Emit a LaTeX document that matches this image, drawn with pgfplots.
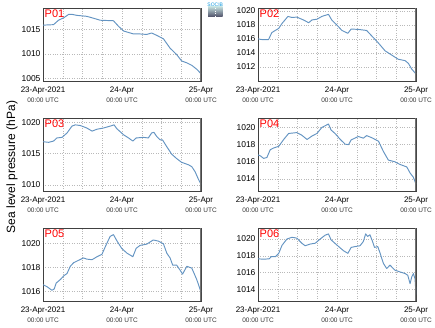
\documentclass[border=0pt]{standalone}
\usepackage{pgfplots}
\pgfplotsset{compat=1.18}
\usepackage{fontspec}
\setmainfont{Liberation Sans}
\definecolor{lc}{RGB}{100,148,194}
\definecolor{gridc}{RGB}{185,185,185}
\tikzset{plabel/.style={red, font=\fontsize{11}{12}\selectfont, anchor=north west, inner sep=1.5pt}}
\newcommand{\tl}[1]{\fontsize{8}{8}\selectfont #1\\[-1.5pt]\fontsize{6.5}{6.5}\selectfont\color{black!80} 00:00 UTC}
\pgfplotsset{
  panel/.style={
    scale only axis, width=158pt, height=73pt,
    xmin=0, xmax=48,
    xtick={0,6,...,48},
    xticklabels={{\tl{23-Apr-2021}},,,,{\tl{24-Apr}},,,,{\tl{25-Apr}}},
    xticklabel style={align=center, yshift=-2pt},
    yticklabel style={font=\fontsize{8.5}{9}\selectfont, xshift=1pt},
    /pgf/number format/assume math mode=true,
    /pgf/number format/1000 sep={},
    major tick length=0pt,
    grid=major,
    major grid style={gridc, dotted, line width=0.5pt},
    axis line style={black!75, line width=0.6pt},
    every axis plot post/.append style={lc, line width=0.95pt, mark=none, line join=round},
  },
}
\begin{document}
\begin{tikzpicture}
\useasboundingbox (0,0) rectangle (435pt,327pt);
% logo
\shade[top color=cyan!25!gray!40, bottom color=black!75!blue!40!gray] (208pt,310pt) rectangle (222.5pt,320pt);
\draw[white, dotted, line width=0.4pt] (215pt,311pt) -- (215pt,319pt);
\node[font=\fontsize{5}{5}\selectfont, text=cyan!80!blue, inner sep=0pt, anchor=south] at (215.2pt,320.3pt) {SOCIB};
% y label
\node[rotate=90, font=\fontsize{12}{13}\selectfont] at (12pt,160pt) {Sea level pressure (hPa)};

% P01
\begin{axis}[panel, at={(43pt,246pt)}, anchor=south west, ymin=1004.5, ymax=1019.4, ytick={1005,1010,1015}]
\addplot coordinates {(0,1015.9)(3.2,1016.0)(4.7,1016.9)(6.3,1017.4)(7.8,1018.1)(8.8,1018.1)(10.3,1017.9)(13.3,1017.7)(15.4,1017.3)(17.4,1016.9)(21.4,1016.8)(22.9,1015.7)(24.5,1014.7)(27.5,1014.1)(29.5,1014.1)(31.5,1014.0)(33.0,1014.3)(34.6,1013.8)(36.6,1013.1)(38.6,1011.2)(40.6,1009.9)(42.1,1008.6)(43.7,1008.2)(45.2,1007.7)(46.7,1006.9)(48,1006.0)};
\node[plabel] at (rel axis cs:0,1) {P01};
\draw[black!55, line width=1.2pt] (rel axis cs:1,0) -- (rel axis cs:1,1);
\end{axis}

% P02
\begin{axis}[panel, at={(258pt,246pt)}, anchor=south west, ymin=1010, ymax=1020.4, ytick={1012,1014,1016,1018,1020}]
\addplot coordinates {(0,1016.0)(1.2,1015.9)(3.2,1015.9)(4.2,1016.9)(6.3,1017.5)(7.3,1018.2)(9.1,1019.2)(10.3,1019.05)(11.8,1019.1)(13.8,1018.7)(15.4,1018.3)(16.4,1018.7)(17.9,1018.8)(19.4,1019.2)(21.4,1019.5)(22.4,1018.7)(23.9,1018.0)(25.5,1017.2)(27.3,1016.8)(28.3,1017.4)(30.5,1017.35)(33.0,1017.2)(34.6,1016.4)(36.6,1015.4)(38.6,1014.3)(40.6,1013.7)(42.6,1013.1)(44.7,1012.9)(45.7,1012.5)(46.7,1011.7)(48,1011.0)};
\node[plabel] at (rel axis cs:0,1) {P02};
\draw[black!55, line width=1.2pt] (rel axis cs:1,0) -- (rel axis cs:1,1);
\end{axis}

% P03
\begin{axis}[panel, at={(43pt,136pt)}, anchor=south west, ymin=1009.0, ymax=1020.7, ytick={1010,1015,1020}]
\addplot coordinates {(0,1016.9)(1.7,1016.8)(3.2,1017.0)(4.2,1017.5)(5.8,1017.6)(7.3,1018.3)(8.8,1019.4)(9.8,1019.6)(11.3,1019.5)(13.3,1019.1)(14.9,1018.6)(16.4,1018.9)(18.4,1019.1)(20.4,1019.4)(21.6,1019.6)(22.4,1019.0)(24.5,1018.0)(26.0,1017.5)(27.3,1017.0)(28.3,1017.5)(30.5,1017.6)(32.0,1017.5)(33.0,1018.3)(33.7,1018.4)(34.6,1017.7)(35.6,1017.2)(36.3,1017.2)(37.6,1016.1)(39.1,1014.9)(40.6,1014.2)(42.1,1013.6)(44.2,1013.2)(45.2,1012.9)(46.2,1012.1)(47.2,1010.9)(48,1010.05)};
\node[plabel] at (rel axis cs:0,1) {P03};
\draw[black!55, line width=1.2pt] (rel axis cs:1,0) -- (rel axis cs:1,1);
\end{axis}

% P04
\begin{axis}[panel, at={(258pt,136pt)}, anchor=south west, ymin=1012.6, ymax=1021.1, ytick={1014,1016,1018,1020}]
\addplot coordinates {(0,1016.8)(0.7,1016.7)(1.7,1016.4)(2.7,1016.5)(3.7,1017.4)(4.7,1017.6)(6.3,1017.8)(7.8,1018.6)(9.3,1019.3)(11.8,1019.4)(13.3,1019.1)(14.9,1018.6)(16.4,1019.0)(17.9,1019.3)(19.4,1020.0)(21.4,1020.4)(22.2,1019.7)(23.4,1019.3)(25.0,1018.6)(26.5,1018.05)(27.5,1018.0)(28.3,1018.55)(30.5,1018.95)(32.0,1018.75)(33.0,1019.05)(34.6,1018.8)(36.6,1018.4)(38.1,1017.2)(39.6,1016.2)(41.6,1016.0)(43.1,1015.7)(45.2,1015.4)(46.2,1014.7)(47.2,1014.2)(48,1013.4)};
\node[plabel] at (rel axis cs:0,1) {P04};
\draw[black!55, line width=1.2pt] (rel axis cs:1,0) -- (rel axis cs:1,1);
\end{axis}

% P05
\begin{axis}[panel, at={(43pt,26pt)}, anchor=south west, ymin=1015.2, ymax=1021.3, ytick={1016,1018,1020}]
\addplot coordinates {(0,1016.56)(1.2,1016.4)(2.7,1016.1)(3.4,1016.2)(4.0,1016.7)(5.3,1017.0)(6.3,1017.3)(7.3,1017.5)(8.3,1018.1)(9.3,1018.4)(10.8,1018.6)(12.3,1018.8)(13.3,1018.7)(14.9,1018.65)(16.4,1018.9)(17.9,1019.1)(19.2,1019.9)(20.4,1020.6)(21.4,1020.75)(22.4,1020.25)(23.9,1019.6)(25.5,1019.2)(27.3,1018.9)(28.3,1019.6)(29.5,1019.85)(31.5,1019.95)(33.5,1020.3)(35.1,1020.2)(36.6,1019.97)(37.6,1019.2)(38.6,1018.8)(39.4,1018.2)(40.6,1018.2)(41.6,1017.8)(42.4,1017.45)(43.7,1018.1)(45.2,1017.95)(46.7,1017.0)(48,1015.95)};
\node[plabel] at (rel axis cs:0,1) {P05};
\draw[black!55, line width=1.2pt] (rel axis cs:1,0) -- (rel axis cs:1,1);
\end{axis}

% P06
\begin{axis}[panel, at={(258pt,26pt)}, anchor=south west, ymin=1012.65, ymax=1021.3, ytick={1014,1016,1018,1020}]
\addplot coordinates {(0,1017.65)(1.7,1017.6)(3.4,1017.65)(4.0,1017.9)(5.3,1017.9)(6.3,1018.3)(7.3,1019.25)(8.8,1020.0)(10.3,1020.2)(11.8,1020.1)(13.3,1019.5)(14.3,1019.2)(15.9,1019.4)(17.4,1019.5)(18.9,1020.0)(20.4,1020.45)(21.4,1020.6)(22.2,1019.9)(23.9,1019.3)(26.0,1018.6)(27.3,1018.3)(28.3,1019.0)(29.5,1019.1)(31.0,1019.2)(32.0,1019.7)(32.7,1020.6)(33.3,1020.3)(34.0,1020.5)(34.8,1019.7)(35.4,1019.0)(36.4,1019.1)(37.1,1018.3)(38.1,1017.1)(39.1,1016.5)(40.1,1016.9)(41.6,1016.3)(43.1,1016.1)(44.7,1015.9)(45.5,1015.7)(46.2,1014.7)(46.7,1015.5)(47.2,1015.9)(47.7,1015.3)(48,1013.4)};
\node[plabel] at (rel axis cs:0,1) {P06};
\draw[black!55, line width=1.2pt] (rel axis cs:1,0) -- (rel axis cs:1,1);
\end{axis}
\end{tikzpicture}
\end{document}
